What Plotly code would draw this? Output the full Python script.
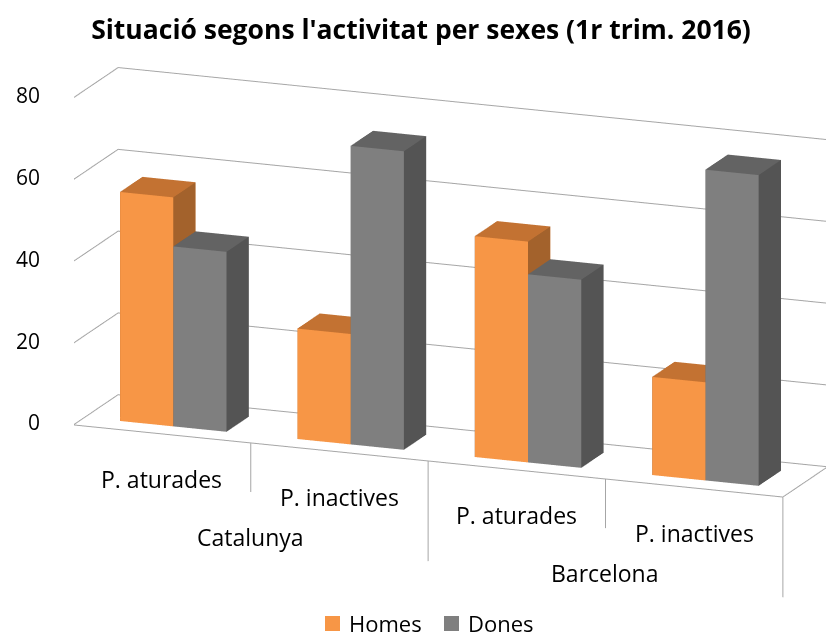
import plotly.graph_objects as go

# data (%)
categories = ["P. aturades", "P. inactives", "P. aturades", "P. inactives"]
groups = ["Catalunya", "Barcelona"]
homes = [56, 27, 54, 24]
dones = [44, 73, 46, 76]
y_ticks = [0, 20, 40, 60, 80]

FONT = "Open Sans"
GRID = "#A6A6A6"
W, H = 826, 625   # page body has an 8px margin

# faces colours: front, right side, top
homes_cols = ("#F79646", "#A3622C", "#C37232")
dones_cols = ("#7F7F7F", "#545454", "#636363")

DEPTH = 1.0          # floor depth (y)
BAR_W = 0.3          # width of one bar, in category units
Y0, Y1 = 0.25, 0.75  # bar depth
A = 0.632            # scene units per category (orthographic zoom goes through aspect ratio)


def bar_mesh(values, offset, cols, name):
    xs, ys, zs, ii, jj, kk, fc = [], [], [], [], [], [], []
    front, side, top = cols
    for c, v in enumerate(values):
        x0 = c + 0.5 + offset
        x1 = x0 + BAR_W
        n = len(xs)
        for (x, y, z) in [(x0, Y0, 0), (x1, Y0, 0), (x1, Y1, 0), (x0, Y1, 0),
                          (x0, Y0, v), (x1, Y0, v), (x1, Y1, v), (x0, Y1, v)]:
            xs.append(x); ys.append(y); zs.append(z)
        faces = [((0, 1, 5), front), ((0, 5, 4), front),
                 ((1, 2, 6), side), ((1, 6, 5), side),
                 ((4, 5, 6), top), ((4, 6, 7), top),
                 ((0, 3, 7), side), ((0, 7, 4), side),
                 ((3, 2, 6), front), ((3, 6, 7), front),
                 ((0, 1, 2), side), ((0, 2, 3), side)]
        for (a, b, d), col in faces:
            ii.append(n + a); jj.append(n + b); kk.append(n + d); fc.append(col)
    return go.Mesh3d(x=xs, y=ys, z=zs, i=ii, j=jj, k=kk, facecolor=fc,
                     flatshading=True, name=name, hoverinfo="skip",
                     lighting=dict(ambient=1, diffuse=0, specular=0, roughness=1, fresnel=0))


fig = go.Figure()
fig.add_trace(bar_mesh(homes, -BAR_W, homes_cols, "Homes"))
fig.add_trace(bar_mesh(dones, 0, dones_cols, "Dones"))

ncat = len(categories)
# gridlines on side wall + back wall, floor outline, ticks
lx, ly, lz = [], [], []
for t in y_ticks:
    lx += [0, 0, ncat, None]; ly += [0, DEPTH, DEPTH, None]; lz += [t, t, t, None]
    lx += [-0.05, 0, None]; ly += [0, 0, None]; lz += [t, t, None]
lx += [0, ncat, ncat, None]; ly += [0, 0, DEPTH, None]; lz += [0, 0, 0, None]
# category separators hanging under the floor
for c in range(1, ncat + 1):
    drop = -24.5 if c % 2 == 0 else -12
    lx += [c, c, None]; ly += [0, 0, None]; lz += [0, drop, None]
fig.add_trace(go.Scatter3d(x=lx, y=ly, z=lz, mode="lines", hoverinfo="skip",
                           line=dict(color=GRID, width=2), showlegend=False))
# value axis line, continuing down as the first category separator
axis_z = sorted(y_ticks, reverse=True) + [-24.5]
fig.add_trace(go.Scatter3d(x=[-0.003] * len(axis_z), y=[-0.003] * len(axis_z), z=axis_z,
                           mode="lines", hoverinfo="skip",
                           line=dict(color="#9A9A9A", width=2.5), showlegend=False))

ann = []
for t in y_ticks:
    ann.append(dict(x=-0.14, y=0, z=t, text=str(t), showarrow=False, xanchor="right",
                    xshift=-6, font=dict(family=FONT, size=21, color="#000")))
for c, lab in enumerate(categories):
    ann.append(dict(x=c + 0.5, y=0, z=-11, text=lab, showarrow=False,
                    font=dict(family=FONT, size=23, color="#000")))
for g, lab in enumerate(groups):
    ann.append(dict(x=2 * g + 1, y=0, z=-23, text=lab, showarrow=False,
                    font=dict(family=FONT, size=23, color="#000")))

fig.update_layout(
    width=W, height=H,
    margin=dict(l=0, r=0, t=0, b=0),
    paper_bgcolor="white",
    showlegend=False,
    title=dict(text="<b>Situació segons l'activitat per sexes (1r trim. 2016)</b>",
               x=0.5, xanchor="center", y=1 - 22 / H, yanchor="middle", yref="container",
               font=dict(family=FONT, size=26.5, color="#000")),
    scene=dict(
        domain=dict(x=[0.0794, 1], y=[0, 0.963]),
        xaxis=dict(visible=False, range=[-0.2, 4.1]),
        yaxis=dict(visible=False, range=[-0.02, 1.02]),
        zaxis=dict(visible=False, range=[-26, 82]),
        aspectmode="manual",
        aspectratio=dict(x=4.3 * A, y=1.04 * 0.65 * A, z=108 / 80 * 1.782 * A),
        camera=dict(eye=dict(x=1.434, y=-3.586, z=1.044), up=dict(x=0, y=0, z=1),
                    center=dict(x=0.044, y=0, z=-0.001), projection=dict(type="orthographic")),
        annotations=ann,
    ),
)

# legend drawn as squares + labels
for col, lab, x0 in [(homes_cols[0], "Homes", 317), (dones_cols[0], "Dones", 436)]:
    fig.add_shape(type="rect", xref="paper", yref="paper",
                  x0=x0 / W, x1=(x0 + 15) / W, y0=1 - 623 / H, y1=1 - 608 / H,
                  fillcolor=col, line=dict(width=0))
    fig.add_annotation(x=(x0 + 22) / W, y=1 - 615 / H, xref="paper", yref="paper",
                       text=lab, showarrow=False, xanchor="left", yanchor="middle",
                       font=dict(family=FONT, size=22, color="#000"))

fig.write_html("out.html")
